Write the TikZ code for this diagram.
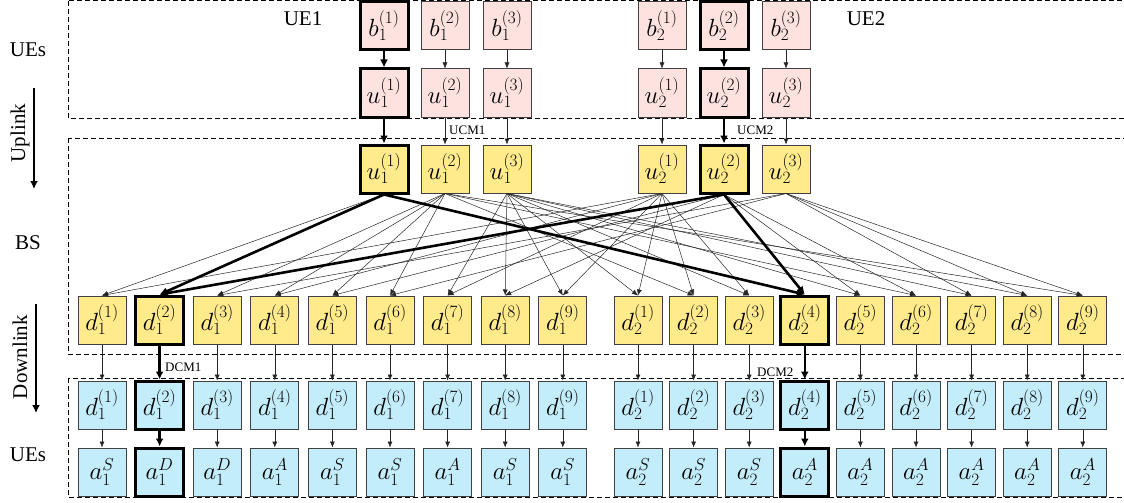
\documentclass[tikz,border=0pt]{standalone}
\usepackage{fontspec}
\setmainfont{Liberation Serif}
\usetikzlibrary{arrows.meta}
\definecolor{uepink}{RGB}{253,226,224}
\definecolor{bsyellow}{RGB}{255,234,140}
\definecolor{dlblue}{RGB}{196,237,251}
\tikzset{
  blk/.style={draw=black!75,line width=1pt,minimum width=48pt,minimum height=48pt,inner sep=0pt,font=\fontsize{26}{26}\selectfont},
  uebox/.style={blk,fill=uepink},
  bsbox/.style={blk,fill=bsyellow},
  dlbox/.style={blk,fill=dlblue},
  hot/.style={draw=black,line width=3pt},
  lnk/.style={-{Latex[length=6pt,width=5pt]},line width=0.5pt,black!85},
  hotlnk/.style={-{Latex[length=8pt,width=8pt]},line width=2.6pt},
  side/.style={font=\fontsize{21}{21}\selectfont},
  mapnote/.style={font=\fontsize{13}{13}\selectfont,inner sep=1pt},
  zone/.style={dash pattern=on 5pt off 3pt,line width=1pt}
}
\begin{document}
\begin{tikzpicture}[x=1pt,y=-1pt]
\clip (0,0) rectangle (1124,503);
\def \yb{26}
\def \yu{93}
\def \yc{169}
\def \yd{320}
\def \ye{405}
\def \ya{472}

% dashed zones
\draw[zone] (68,1) rectangle (1130,118);
\draw[zone] (68,138) rectangle (1130,354);
\draw[zone] (68,378) rectangle (1130,497);

% uplink streams of the two UEs
\foreach \k/\x/\s/\a in {1/384/hot/hotlnk,2/445//lnk,3/507//lnk}{
  \node[uebox,\s] (b1-\k) at (\x,\yb) {$b_1^{(\k)}$};
  \node[uebox,\s] (uu1-\k) at (\x,\yu) {$u_1^{(\k)}$};
  \node[bsbox,\s] (ub1-\k) at (\x,\yc) {$u_1^{(\k)}$};
  \draw[\a] (b1-\k) -- (uu1-\k);
  \draw[\a] (uu1-\k) -- (ub1-\k);
}
\foreach \k/\x/\s/\a in {1/662//lnk,2/724/hot/hotlnk,3/786//lnk}{
  \node[uebox,\s] (b2-\k) at (\x,\yb) {$b_2^{(\k)}$};
  \node[uebox,\s] (uu2-\k) at (\x,\yu) {$u_2^{(\k)}$};
  \node[bsbox,\s] (ub2-\k) at (\x,\yc) {$u_2^{(\k)}$};
  \draw[\a] (b2-\k) -- (uu2-\k);
  \draw[\a] (uu2-\k) -- (ub2-\k);
}

% downlink streams
\foreach \k/\t/\s/\a in {1/S//lnk,2/D/hot/hotlnk,3/D//lnk,4/A//lnk,5/S//lnk,6/S//lnk,7/A//lnk,8/S//lnk,9/S//lnk}{
  \node[bsbox,\s] (db1-\k) at (44.4+57.6*\k,\yd) {$d_1^{(\k)}$};
  \node[dlbox,\s] (du1-\k) at (44.4+57.6*\k,\ye) {$d_1^{(\k)}$};
  \node[dlbox,\s] (a1-\k) at (44.4+57.6*\k,\ya) {$a_1^{\t}$};
  \draw[\a] (db1-\k) -- (du1-\k);
  \draw[\a] (du1-\k) -- (a1-\k);
}
\foreach \k/\t/\s/\a in {1/S//lnk,2/S//lnk,3/S//lnk,4/A/hot/hotlnk,5/A//lnk,6/A//lnk,7/A//lnk,8/A//lnk,9/A//lnk}{
  \node[bsbox,\s] (db2-\k) at (582.4+55.6*\k,\yd) {$d_2^{(\k)}$};
  \node[dlbox,\s] (du2-\k) at (582.4+55.6*\k,\ye) {$d_2^{(\k)}$};
  \node[dlbox,\s] (a2-\k) at (582.4+55.6*\k,\ya) {$a_2^{\t}$};
  \draw[\a] (db2-\k) -- (du2-\k);
  \draw[\a] (du2-\k) -- (a2-\k);
}

% BS mapping
\foreach \p/\q in {1-1/1-1,
  1-2/1-3,1-2/1-4,1-2/1-5,1-2/1-6,1-2/2-2,1-2/2-6,1-2/2-9,
  1-3/1-7,1-3/1-8,1-3/1-9,1-3/2-1,1-3/2-3,1-3/2-5,1-3/2-7,1-3/2-8,
  2-1/1-1,2-1/1-4,2-1/1-7,2-1/1-9,2-1/2-1,2-1/2-2,2-1/2-3,
  2-2/1-5,2-2/1-8,2-2/2-5,2-2/2-6,
  2-3/1-3,2-3/1-6,2-3/2-7,2-3/2-8,2-3/2-9}
  \draw[lnk] (ub\p.south) -- (db\q.north);
\foreach \p/\q in {1-1/1-2,1-1/2-4,2-2/1-2,2-2/2-4}
  \draw[hotlnk] (ub\p.south) -- (db\q.north);

% mapping labels
\node[mapnote,anchor=west] (ucm1) at (448,130) {UCM1};
\node[mapnote,anchor=west] (ucm2) at (736,130) {UCM2};
\node[mapnote,anchor=west] (dcm1) at (164,367) {DCM1};
\node[mapnote,anchor=west] (dcm2) at (756,372) {DCM2};

% side labels
\node[side] (ue1) at (303,19) {UE1};
\node[side] (ue2) at (866,19) {UE2};
\node[side] (ues-t) at (28,50) {UEs};
\node[side,rotate=90] (upl) at (20,133) {Uplink};
\node[side] (bs) at (28,243) {BS};
\node[side,rotate=90] (dnl) at (20,357) {Downlink};
\node[side] (ues-b) at (28,455) {UEs};
\coordinate (upl-s) at (34,88);
\coordinate (upl-e) at (34,189);
\coordinate (dnl-s) at (36,304);
\coordinate (dnl-e) at (36,413);
\draw[hotlnk,line width=2.2pt] (upl-s) -- (upl-e);
\draw[hotlnk,line width=2.2pt] (dnl-s) -- (dnl-e);
\end{tikzpicture}
\end{document}
